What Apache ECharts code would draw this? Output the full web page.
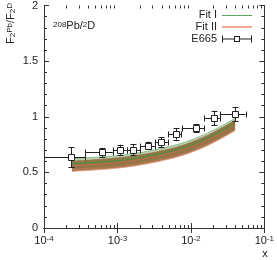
<!DOCTYPE html>
<html><head><meta charset="utf-8">
<script src="https://cdn.jsdelivr.net/npm/echarts@6/dist/echarts.min.js"></script>
<style>html,body{margin:0;padding:0;background:#fff}#c{width:277px;height:260px}</style>
</head><body><div id="c"></div>
<script>
// E665 data
const e665X = [2.35e-4, 6.2e-4, 1.1e-3, 1.65e-3, 2.57e-3, 3.95e-3, 6.3e-3, 1.16e-2, 2.05e-2, 4.0e-2];
const e665Y = [0.634, 0.681, 0.703, 0.705, 0.741, 0.771, 0.845, 0.899, 0.99, 1.024];
const e665XLow = [6e-5, 3.65e-4, 8.65e-4, 1.33e-3, 2.03e-3, 3.23e-3, 4.86e-3, 7.5e-3, 1.52e-2, 2.47e-2];
const e665XHigh = [3.65e-4, 8.65e-4, 1.33e-3, 2.03e-3, 3.23e-3, 4.86e-3, 7.33e-3, 1.52e-2, 2.47e-2, 5.55e-2];
const e665YErr = [0.09, 0.04, 0.045, 0.05, 0.035, 0.045, 0.052, 0.037, 0.065, 0.065];
// Fits
const fitX = [2.4e-4, 5e-4, 1e-3, 2e-3, 5e-3, 1e-2, 2e-2, 4e-2];
const fitICenter = [0.578, 0.59, 0.605, 0.632, 0.685, 0.745, 0.832, 0.94];
const fitILow = [0.533, 0.545, 0.56, 0.587, 0.64, 0.70, 0.787, 0.895];
const fitIHigh = [0.623, 0.635, 0.65, 0.677, 0.73, 0.79, 0.877, 0.985];
const fitIICenter = [0.558, 0.572, 0.588, 0.615, 0.668, 0.728, 0.815, 0.925];
const fitIILow = [0.508, 0.522, 0.538, 0.565, 0.618, 0.678, 0.765, 0.875];
const fitIIHigh = [0.603, 0.617, 0.633, 0.66, 0.713, 0.773, 0.86, 0.97];
// ticks
const xMinorTicks = [2e-4,3e-4,4e-4,5e-4,6e-4,7e-4,8e-4,9e-4,2e-3,3e-3,4e-3,5e-3,6e-3,7e-3,8e-3,9e-3,2e-2,3e-2,4e-2,5e-2,6e-2,7e-2,8e-2,9e-2];

const FONT = 'Liberation Sans, Arial, sans-serif';
const AX = '#333';
const zip = (xs, ys) => xs.map((x, i) => [x, ys[i]]);

const chart = echarts.init(document.getElementById('c'), null, {renderer: 'canvas'});

const errData = e665X.map((x, i) => [x, e665Y[i], e665XLow[i], e665XHigh[i], e665Y[i] - e665YErr[i], e665Y[i] + e665YErr[i]]);

function renderErr(params, api) {
  const x = api.value(0), y = api.value(1);
  const xl = api.value(2), xh = api.value(3), yl = api.value(4), yh = api.value(5);
  const cs = params.coordSys;
  const c = api.coord([x, y]);
  const l = api.coord([xl, y]);
  const r = api.coord([xh, y]);
  const b = api.coord([x, yl]);
  const t = api.coord([x, yh]);
  const st = {stroke: '#222', lineWidth: 1};
  const children = [];
  const lx = Math.max(l[0], cs.x);
  const rx = Math.min(r[0], cs.x + cs.width);
  const cy = Math.round(c[1]) + 0.5, cx = Math.round(c[0]) + 0.5;
  children.push({type: 'line', shape: {x1: lx, y1: cy, x2: rx, y2: cy}, style: st});
  if (l[0] >= cs.x) children.push({type: 'line', shape: {x1: Math.round(l[0]) + 0.5, y1: cy - 3, x2: Math.round(l[0]) + 0.5, y2: cy + 3}, style: st});
  if (r[0] <= cs.x + cs.width) children.push({type: 'line', shape: {x1: Math.round(r[0]) + 0.5, y1: cy - 3, x2: Math.round(r[0]) + 0.5, y2: cy + 3}, style: st});
  children.push({type: 'line', shape: {x1: cx, y1: b[1], x2: cx, y2: t[1]}, style: st});
  children.push({type: 'line', shape: {x1: cx - 3, y1: Math.round(b[1]) + 0.5, x2: cx + 3, y2: Math.round(b[1]) + 0.5}, style: st});
  children.push({type: 'line', shape: {x1: cx - 3, y1: Math.round(t[1]) + 0.5, x2: cx + 3, y2: Math.round(t[1]) + 0.5}, style: st});
  children.push({type: 'rect', shape: {x: cx - 3, y: cy - 3, width: 6, height: 6}, style: {fill: '#fff', stroke: '#222', lineWidth: 1}});
  return {type: 'group', children};
}

// smooth path through pixel points (Catmull-Rom -> Bezier), drawing only
function curveSeg(pts, start) {
  let d = start ? 'M' + pts[0][0] + ',' + pts[0][1] : 'L' + pts[0][0] + ',' + pts[0][1];
  for (let i = 0; i < pts.length - 1; i++) {
    const p0 = pts[Math.max(i - 1, 0)], p1 = pts[i], p2 = pts[i + 1], p3 = pts[Math.min(i + 2, pts.length - 1)];
    const c1 = [p1[0] + (p2[0] - p0[0]) / 6, p1[1] + (p2[1] - p0[1]) / 6];
    const c2 = [p2[0] - (p3[0] - p1[0]) / 6, p2[1] - (p3[1] - p1[1]) / 6];
    d += 'C' + c1[0] + ',' + c1[1] + ',' + c2[0] + ',' + c2[1] + ',' + p2[0] + ',' + p2[1];
  }
  return d;
}
function bandRenderer(lowArr, highArr, fill, edgeTop, edgeBottom) {
  return function (params, api) {
    if (params.dataIndex !== 0) return null;
    const up = fitX.map((x, i) => api.coord([x, highArr[i]]));
    const lo = fitX.map((x, i) => api.coord([x, lowArr[i]])).reverse();
    const d = curveSeg(up, true) + curveSeg(lo, false) + 'Z';
    const children = [{type: 'path', shape: {pathData: d}, style: {fill: fill, stroke: null}}];
    if (edgeTop) children.push({type: 'path', shape: {pathData: curveSeg(up, true)}, style: {fill: null, stroke: edgeTop, lineWidth: 0.8}});
    if (edgeBottom) children.push({type: 'path', shape: {pathData: curveSeg(lo, true)}, style: {fill: null, stroke: edgeBottom, lineWidth: 0.8}});
    return {type: 'group', children};
  };
}

const e665Icon = 'path://M0,0 L1,0 L1,7 L0,7 Z M29,0 L30,0 L30,7 L29,7 Z M1,3 L12,3 L12,4 L1,4 Z M18,3 L29,3 L29,4 L18,4 Z M12,0.5 L18,0.5 L18,6.5 L12,6.5 Z M13,1.5 L13,5.5 L17,5.5 L17,1.5 Z';
const fitIIcon = 'path://M0,0 L0.01,0 L0.01,0.01 Z M0,3.5 L30,3.5 L30,4.5 L0,4.5 Z M29.99,7 L30,7 L30,6.99 Z';
const fitIIIcon = 'path://M0,0 L0.01,0 L0.01,0.01 Z M0,2.5 L30,2.5 L30,4.5 L0,4.5 Z M29.99,7 L30,7 L30,6.99 Z';

const option = {
  animation: false,
  backgroundColor: '#fff',
  textStyle: {fontFamily: FONT},
  grid: {left: 44, right: 9, top: 4, bottom: 32},
  legend: {
    orient: 'vertical', right: 20, top: 4, align: 'right',
    itemWidth: 30, itemHeight: 7, itemGap: 0,
    textStyle: {fontFamily: FONT, fontSize: 11, color: '#222', lineHeight: 12},
    data: [
      {name: 'Fit I', icon: fitIIcon, itemStyle: {color: '#5aa65a'}},
      {name: 'Fit II', icon: fitIIIcon, itemStyle: {color: '#eeaa94'}},
      {name: 'E665', icon: e665Icon, itemStyle: {color: '#222'}}
    ]
  },
  xAxis: [{
    type: 'log', logBase: 10, min: 1e-4, max: 1e-1,
    axisLine: {show: true, lineStyle: {color: AX}},
    axisTick: {show: true, inside: true, length: 5, lineStyle: {color: AX}},
    splitLine: {show: false},
    axisLabel: {
      margin: 7, color: '#222', fontFamily: FONT, fontSize: 11,
      formatter: v => '{b|10}{s|' + Math.round(Math.log10(v)) + '}',
      rich: {b: {fontSize: 11, fontFamily: FONT, color: '#222', verticalAlign: 'bottom'}, s: {fontSize: 8, fontFamily: FONT, color: '#222', verticalAlign: 'top'}}
    }
  }, {
    type: 'log', logBase: 10, min: 1e-4, max: 1e-1, position: 'top',
    axisLine: {show: true, lineStyle: {color: AX}},
    axisTick: {show: true, inside: true, length: 5, lineStyle: {color: AX}},
    axisLabel: {show: false}, splitLine: {show: false}
  }],
  yAxis: [{
    type: 'value', min: 0, max: 2, interval: 0.5,
    axisLine: {show: true, lineStyle: {color: AX}},
    axisTick: {show: true, inside: true, length: 5, lineStyle: {color: AX}},
    minorTick: {show: true, splitNumber: 5, length: 3, lineStyle: {color: AX}},
    splitLine: {show: false},
    axisLabel: {margin: 6, color: '#222', fontFamily: FONT, fontSize: 11, formatter: v => String(v)}
  }, {
    type: 'value', min: 0, max: 2, interval: 0.5, position: 'right',
    axisLine: {show: true, lineStyle: {color: AX}},
    axisTick: {show: true, inside: true, length: 5, lineStyle: {color: AX}},
    minorTick: {show: true, splitNumber: 5, length: 3, lineStyle: {color: AX}},
    splitLine: {show: false}, axisLabel: {show: false}
  }],
  series: [
    {name: 'Fit II band', type: 'custom', renderItem: bandRenderer(fitIILow, fitIIHigh, 'rgba(160,95,50,0.85)', null, '#eaa890'), data: zip(fitX, fitIICenter), encode: {x: 0, y: 1}, silent: true, z: 1},
    {name: 'Fit I band', type: 'custom', renderItem: bandRenderer(fitILow, fitIHigh, 'rgba(90,120,50,0.35)', '#6cb36c', null), data: zip(fitX, fitICenter), encode: {x: 0, y: 1}, silent: true, z: 2},
    {name: 'Fit II', type: 'line', data: zip(fitX, fitIICenter), smooth: true, symbol: 'none', lineStyle: {width: 1, color: '#c9664c'}, itemStyle: {color: '#eeaa94'}, z: 3},
    {name: 'Fit I', type: 'line', data: zip(fitX, fitICenter), smooth: true, symbol: 'none', lineStyle: {width: 1, color: '#3f933f'}, itemStyle: {color: '#5aa65a'}, z: 4},
    {name: 'E665', type: 'custom', renderItem: renderErr, data: errData, encode: {x: 0, y: 1}, itemStyle: {color: '#222'}, z: 5}
  ]
};
chart.setOption(option);

// minor ticks on log axes and text annotations
const grid = chart.getModel().getComponent('grid').coordinateSystem.getRect();
const g = [];
xMinorTicks.forEach(v => {
  const px = Math.round(chart.convertToPixel({xAxisIndex: 0}, v)) + 0.5;
  g.push({type: 'line', silent: true, shape: {x1: px, y1: grid.y + grid.height, x2: px, y2: grid.y + grid.height - 3}, style: {stroke: AX, lineWidth: 1}});
  g.push({type: 'line', silent: true, shape: {x1: px, y1: grid.y, x2: px, y2: grid.y + 3}, style: {stroke: AX, lineWidth: 1}});
});
g.push({type: 'text', x: 53, y: 26, style: {
  text: '{s|208}{n|Pb/}{s|2}{n|D}', textVerticalAlign: 'middle',
  rich: {n: {fontSize: 11, fontFamily: FONT, fill: '#222', verticalAlign: 'bottom'}, s: {fontSize: 8, fontFamily: FONT, fill: '#222', verticalAlign: 'top'}}
}});
g.push({type: 'text', x: 11, y: 3, rotation: Math.PI / 2, style: {
  text: '{n|F}{b|2}{s|Pb}{n|/F}{b|2}{s|D}', textAlign: 'right', textVerticalAlign: 'middle',
  rich: {n: {fontSize: 11, fontFamily: FONT, fill: '#222', verticalAlign: 'middle'}, b: {fontSize: 8, fontFamily: FONT, fill: '#222', verticalAlign: 'bottom'}, s: {fontSize: 8, fontFamily: FONT, fill: '#222', verticalAlign: 'top'}}
}});
g.push({type: 'text', x: 265, y: 254, style: {text: 'x', fontSize: 11, fontFamily: FONT, fill: '#222', textAlign: 'center', textVerticalAlign: 'middle'}});
chart.setOption({graphic: g});
</script></body></html>
